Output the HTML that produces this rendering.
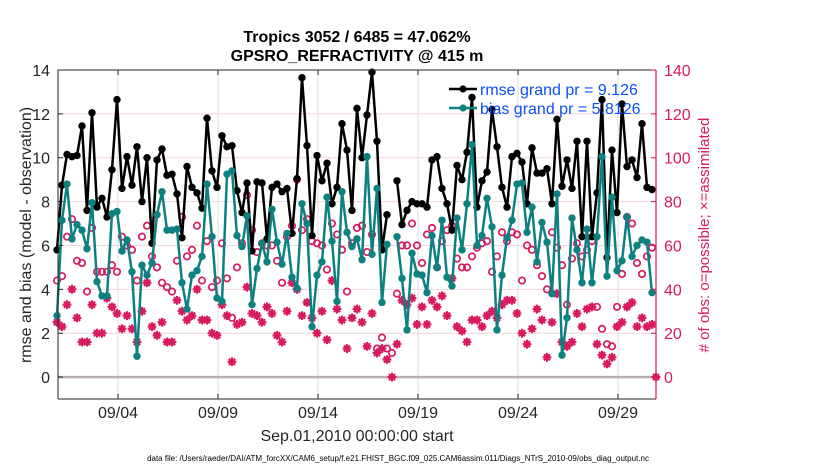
<!DOCTYPE html>
<html><head><meta charset="utf-8">
<style>
body{margin:0;background:#fff;width:830px;height:470px;overflow:hidden;font-family:"Liberation Sans",Arial,sans-serif}
svg text{font-family:"Liberation Sans",Arial,sans-serif}
</style></head>
<body>
<svg id="chart" width="830" height="470" viewBox="0 0 830 470" xmlns="http://www.w3.org/2000/svg">
<rect x="0" y="0" width="830" height="470" fill="#fff"/>
<g id="grid"></g>
<g id="series"></g>
<g id="axes"></g>
</svg>
<script>
const xTickLabels=["09/04","09/09","09/14","09/19","09/24","09/29"];
const xTickDays=[3,8,13,18,23,28];
const leftTicks=[0,2,4,6,8,10,12,14];
const rightTicks=[0,20,40,60,80,100,120,140];
const rmse=[5.8,8.75,10.15,10.05,10.1,11.45,7.6,12.05,7.75,8.15,7.3,9.45,12.65,8.6,10.05,8.75,10.5,8.0,10.0,6.1,9.9,10.4,9.2,9.25,8.35,6.35,9.6,8.65,8.4,7.7,11.8,
9.4,8.65,11.0,10.5,10.55,8.5,7.5,8.85,5.75,8.9,8.85,6.3,8.65,8.8,8.45,8.6,6.55,9.05,13.65,10.55,6.45,10.1,8.95,9.75,7.9,8.65,11.55,10.35,7.6,12.25,
10.0,11.95,13.9,10.75,5.8,7.4,null,8.95,6.95,7.6,8.0,7.9,7.9,7.75,9.9,10.05,8.6,7.9,6.7,9.65,9.0,10.25,12.75,7.75,8.95,9.35,12.2,10.5,8.65,7.75,
10.05,10.2,9.8,7.9,10.45,9.3,9.3,9.5,7.9,11.75,8.7,9.9,8.6,10.75,6.4,10.75,6.4,8.4,12.65,5.45,10.35,7.5,12.45,9.6,9.9,9.1,11.55,8.65,8.55,null];
const bias=[2.8,7.15,8.8,6.3,6.95,6.7,5.85,7.95,4.35,3.7,3.7,7.45,7.55,5.75,6.25,4.8,0.95,5.1,4.65,5.2,7.4,8.45,6.7,6.7,6.75,4.3,3.1,4.65,4.85,5.5,8.8,
6.4,3.6,3.45,9.25,9.4,6.45,5.95,7.35,3.3,4.95,6.1,5.25,7.65,6.15,5.15,6.55,4.55,4.05,7.9,7.0,2.3,4.65,5.25,8.2,6.2,3.45,8.45,6.6,5.95,6.3,
5.35,10.05,5.6,8.6,3.4,6.05,null,6.4,4.5,2.15,5.65,4.7,4.65,3.85,6.45,5.0,7.15,4.55,4.15,7.25,5.8,7.9,10.6,6.0,6.45,8.15,6.85,2.15,4.65,6.35,
7.15,8.8,8.85,6.6,7.75,5.25,7.05,6.15,3.8,8.35,1.0,2.7,7.25,5.8,4.3,6.75,4.3,6.4,10.05,4.6,8.2,4.85,5.3,7.3,5.5,6.0,6.25,6.15,3.85,null];
const possible=[44,46,64,72,53,52,39,68,48,48,48,51,48,64,60,58,44,64,69,55,50,43,41,39,53,73,55,58,69,44,62,
41,44,61,45,27,50,61,83,67,57,61,60,60,53,43,64,69,90,67,72,62,61,60,49,70,65,58,39,61,68,
69,57,65,13,18,13,11,38,60,60,70,60,52,65,68,50,62,67,69,54,50,50,55,59,61,62,48,55,66,62,
66,65,44,60,58,51,46,40,66,59,51,33,54,61,55,58,62,32,22,15,14,32,47,73,70,52,47,55,59,null];
const assimilated=[25,23,33,40,27,16,16,33,20,20,36,32,29,22,28,22,16,30,43,23,19,25,16,16,35,30,26,28,40,26,26,
20,19,33,28,7,24,25,41,29,28,25,32,29,19,16,30,43,40,28,34,27,20,30,17,44,31,26,13,27,31,
25,14,29,11,13,8,0,15,35,33,36,24,32,24,35,32,37,28,45,23,21,16,26,26,23,28,30,27,33,35,
35,29,20,15,22,31,26,9,25,38,16,14,16,29,23,31,32,15,10,6,9,23,25,32,34,23,27,23,24,0];

const L=58,R=656,T=70,B=399;
const yMin=-1,yMax=14;
function yL(v){return T+(yMax-v)/(yMax-yMin)*(B-T);}
function yR(v){return yL(v/10);}
function xDay(d){return L+d*20;}
function xIdx(i){return L-1+i*5;}
const NS="http://www.w3.org/2000/svg";
function mk(tag,attrs,parent){const e=document.createElementNS(NS,tag);for(const k in attrs)e.setAttribute(k,attrs[k]);parent.appendChild(e);return e;}
const grid=document.getElementById('grid'),ser=document.getElementById('series'),axes=document.getElementById('axes');

leftTicks.forEach(v=>{const l=mk('line',{x1:L,x2:R,y1:yL(v),y2:yL(v),stroke:'#f0d4de','stroke-width':1},grid);

});
xTickDays.forEach(d=>{const l=mk('line',{x1:xDay(d),x2:xDay(d),y1:T,y2:B,stroke:'#dcdcdc','stroke-width':1},grid);

});
const zl=mk('line',{x1:L,x2:R,y1:yL(0),y2:yL(0),stroke:'#b8b0b2','stroke-width':2.5},grid);



function drawLine(arr,color,name){
  let d='',pen=false;
  arr.forEach((v,i)=>{if(v===null){pen=false;return;}d+=(pen?'L':'M')+xIdx(i)+','+yL(v);pen=true;});
  const p=mk('path',{d:d,fill:'none',stroke:color,'stroke-width':2.5,'stroke-linejoin':'round'},ser);
  
  
  arr.forEach((v,i)=>{if(v===null)return;const c=mk('circle',{cx:xIdx(i),cy:yL(v),r:3.7,fill:color},ser);
  
  });
}
possible.forEach((v,i)=>{if(v===null)return;const c=mk('circle',{cx:xIdx(i),cy:yR(v),r:3.2,fill:'none',stroke:'#d81b60','stroke-width':1.7},ser);

});
assimilated.forEach((v,i)=>{if(v===null)return;const x=xIdx(i)+(i===120?-1:0),y=yR(v),s=4.4;
const g=mk('path',{d:`M${x-s},${y}H${x+s}M${x},${y-s}V${y+s}M${x-s*0.7},${y-s*0.7}L${x+s*0.7},${y+s*0.7}M${x-s*0.7},${y+s*0.7}L${x+s*0.7},${y-s*0.7}`,stroke:'#d81b60','stroke-width':2.2,fill:'none'},ser);

});
drawLine(rmse,'#000','rmse');
drawLine(bias,'#0d8080','bias');

const box=mk('path',{d:`M${L},${B}V${T}H${R}`,fill:'none',stroke:'#262626','stroke-width':1},axes);


const bx=mk('line',{x1:L,x2:R,y1:B,y2:B,stroke:'#262626','stroke-width':1},axes);


const ry=mk('line',{x1:R,x2:R,y1:T,y2:B,stroke:'#d81b60','stroke-width':1.2},axes);


leftTicks.forEach(v=>{
  mk('line',{x1:L,x2:L+5,y1:yL(v),y2:yL(v),stroke:'#262626'},axes);
  const t=mk('text',{x:L-8,y:yL(v)+6,'text-anchor':'end','font-size':16,fill:'#262626'},axes);t.textContent=v;
  
  
});
rightTicks.forEach(v=>{
  mk('line',{x1:R-5,x2:R,y1:yR(v),y2:yR(v),stroke:'#d81b60'},axes);
  const t=mk('text',{x:R+8,y:yR(v)+6,'text-anchor':'start','font-size':16,fill:'#d81b60'},axes);t.textContent=v;
  
  
});
xTickDays.forEach((d,k)=>{
  mk('line',{x1:xDay(d),x2:xDay(d),y1:B,y2:B-5,stroke:'#262626'},axes);
  mk('line',{x1:xDay(d),x2:xDay(d),y1:T,y2:T+5,stroke:'#262626'},axes);
  const t=mk('text',{x:xDay(d),y:B+19,'text-anchor':'middle','font-size':16,fill:'#262626'},axes);t.textContent=xTickLabels[k];
  
  
});
</script>
<svg style="position:absolute;left:0;top:0" width="830" height="470" xmlns="http://www.w3.org/2000/svg">
<text x="357" y="42" text-anchor="middle" font-size="16" font-weight="bold" fill="#000">Tropics 3052 / 6485 = 47.062%</text>
<text x="357" y="61" text-anchor="middle" font-size="16" font-weight="bold" fill="#000">GPSRO_REFRACTIVITY @ 415 m</text>
<text transform="translate(31,235) rotate(-90)" text-anchor="middle" font-size="16" fill="#262626">rmse and bias (model - observation)</text>
<text transform="translate(709,235) rotate(-90)" text-anchor="middle" font-size="15" fill="#d81b60"># of obs: o=possible; ×=assimilated</text>
<text x="357" y="441" text-anchor="middle" font-size="16" fill="#262626">Sep.01,2010 00:00:00 start</text>
<text x="398" y="461" text-anchor="middle" font-size="8" fill="#000">data file: /Users/raeder/DAI/ATM_forcXX/CAM6_setup/f.e21.FHIST_BGC.f09_025.CAM6assim.011/Diags_NTrS_2010-09/obs_diag_output.nc</text>
<g>
<line x1="449" x2="477" y1="89" y2="89" stroke="#000" stroke-width="2.5"/><circle cx="463" cy="89" r="3.6" fill="#000"/>
<text x="480" y="95" font-size="16" fill="#0b4ff5">rmse grand pr = 9.126</text>
<line x1="449" x2="477" y1="108" y2="108" stroke="#0d8080" stroke-width="2.5"/><circle cx="463" cy="108" r="3.6" fill="#0d8080"/>
<text x="480" y="114" font-size="16" fill="#0b4ff5">bias grand pr = 5.8126</text>
</g>
</svg>
</body></html>
